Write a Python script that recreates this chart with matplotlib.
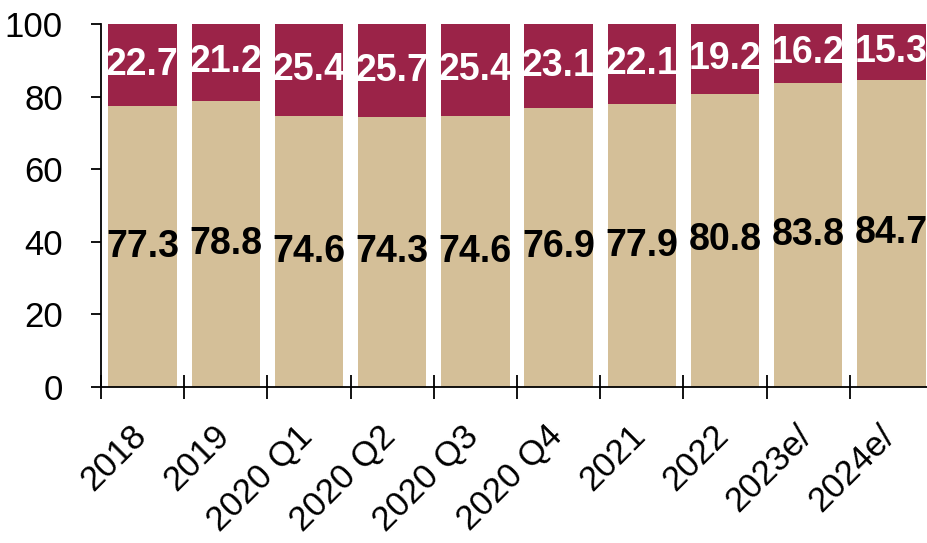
import matplotlib.pyplot as plt
import matplotlib.transforms as mtransforms
import numpy as np

categories = ["2018", "2019", "2020 Q1", "2020 Q2", "2020 Q3", "2020 Q4",
              "2021", "2022", "2023e/", "2024e/"]
lower = [77.3, 78.8, 74.6, 74.3, 74.6, 76.9, 77.9, 80.8, 83.8, 84.7]
upper = [22.7, 21.2, 25.4, 25.7, 25.4, 23.1, 22.1, 19.2, 16.2, 15.3]

beige = "#D4BF98"
wine = "#9B2348"

plt.rcParams['font.family'] = ['Liberation Sans', 'DejaVu Sans']

fig = plt.figure(figsize=(9.28, 5.43), dpi=100)
ax = fig.add_axes([0.1088, 0.2873, 0.8966, 0.6685])

x = np.arange(len(categories))
b1 = ax.bar(x, lower, width=0.82, color=beige)
b2 = ax.bar(x, upper, width=0.82, bottom=lower, color=wine)

ax.bar_label(b1, labels=[f"{v:.1f}" for v in lower], label_type='center',
             fontsize=27, fontweight='bold', color='black')
ax.bar_label(b2, labels=[f"{v:.1f}" for v in upper], label_type='center',
             fontsize=27, fontweight='bold', color='white')

ax.set_xlim(-0.5, len(categories) - 0.5)
ax.set_ylim(0, 100)
ax.set_yticks([0, 20, 40, 60, 80, 100])
ax.tick_params(axis='y', labelsize=25, length=7.5, width=1.3, pad=20)

# labels under bar centres, tick marks on the category boundaries
ax.set_xticks(x)
ax.set_xticklabels(categories, rotation=45, ha='right', va='baseline',
                   rotation_mode='anchor', fontsize=25)
ax.tick_params(axis='x', which='major', length=0, pad=36.5)
ax.set_xticks(np.arange(len(categories)) - 0.5, minor=True)
ax.tick_params(axis='x', which='minor', direction='inout', length=17, width=1.3)

# nudge the rotated labels a few pixels to the right
nudge = mtransforms.ScaledTranslation(5 / 100, 0, fig.dpi_scale_trans)
for lbl in ax.get_xticklabels():
    lbl.set_transform(lbl.get_transform() + nudge)

for side in ['top', 'right']:
    ax.spines[side].set_visible(False)
for side in ['left', 'bottom']:
    ax.spines[side].set_linewidth(1.3)

fig.savefig("out.png", dpi=100)
